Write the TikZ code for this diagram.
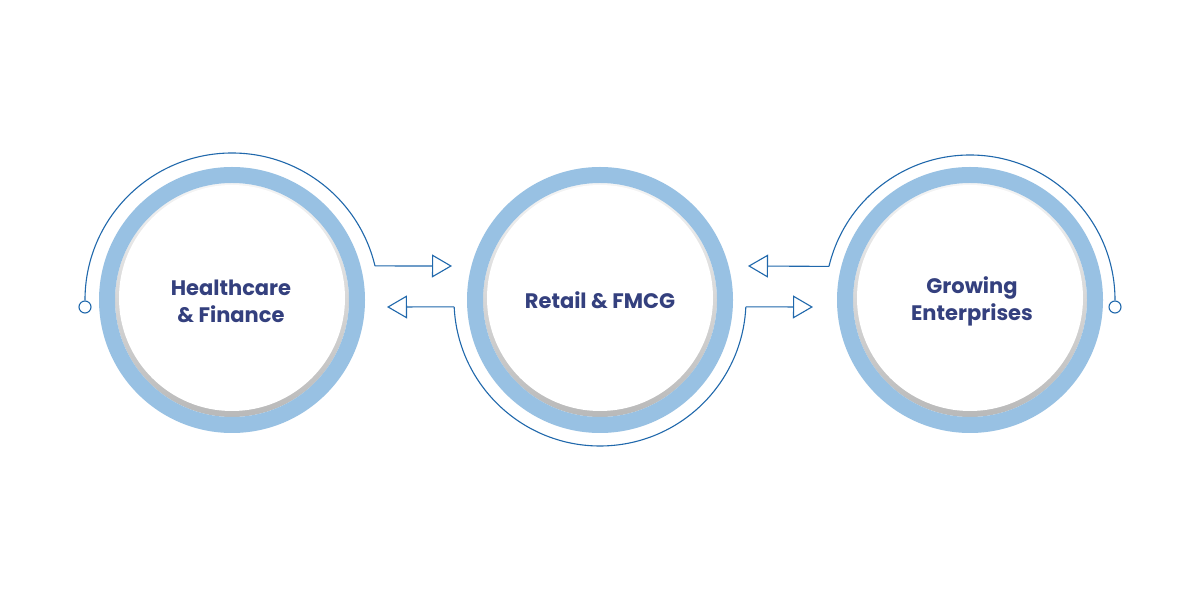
\documentclass[tikz,border=0pt]{standalone}
\usepackage{fontspec}
\setmainfont{Poppins}
\usetikzlibrary{arrows.meta,calc}
\definecolor{ringblue}{RGB}{152,193,227}
\definecolor{linkblue}{RGB}{32,104,172}
\definecolor{txtnavy}{RGB}{52,64,126}
\tikzset{
  ring/.style={circle, draw=ringblue, line width=16pt, minimum size=250pt, inner sep=0pt},
  label/.style={text=txtnavy, font=\fontsize{21}{27}\selectfont\bfseries, align=center},
  thin/.style={draw=linkblue, line width=1.1pt},
  arr/.style={thin, -{Triangle[open, length=20pt, width=23pt, line width=1.1pt]}},
  dot/.style={circle, draw=linkblue, line width=1.1pt, fill=white, minimum size=12pt, inner sep=0pt}
}
\newcommand{\innerdisk}[1]{%
  \shade[top color=gray!8, bottom color=gray!55] (#1) circle[radius=117pt];
  \fill[white] ($(#1)+(0,2pt)$) circle[radius=113pt];
}
\begin{document}
\begin{tikzpicture}[x=1pt,y=1pt]
\useasboundingbox (0,0) rectangle (1200,600);
\fill[white] (0,0) rectangle (1200,600);
% centres
\coordinate (Lc) at (232,300);
\coordinate (Mc) at (600,300);
\coordinate (Rc) at (970,300);
% inner disks
\innerdisk{Lc}
\innerdisk{Mc}
\innerdisk{Rc}
% rings with labels
\node[ring] (L) at (Lc) {};
\node[ring] (M) at (Mc) {};
\node[ring] (R) at (Rc) {};
\node[label] (Lt) at ($(Lc)+(-1,-1)$) {Healthcare\\ \& Finance};
\node[label] (Mt) at ($(Mc)+(0,0)$) {Retail \& FMCG};
\node[label] (Rt) at ($(Rc)+(2,-1)$) {Growing\\Enterprises};
% end dots
\node[dot] (Ld) at ($(Lc)+(-147,-7)$) {};
\node[dot] (Rd) at ($(Rc)+(145,-7)$) {};
% left outer arc
\coordinate (La) at ($(Lc)+(180:147)$);
\draw[thin] (Ld.north) -- (La) arc[start angle=180, end angle=13.4, radius=147] coordinate (Lb);
\coordinate (Mtipa) at ($(Mc)+(-148,34)$);
\draw[arr] (Lb) -- (Mtipa);
% middle lower arc
\coordinate (Ma) at ($(Mc)+(182.7:146)$);
\draw[thin] (Ma) arc[start angle=182.7, end angle=357.3, radius=146] coordinate (Mb);
\coordinate (Ltip) at ($(Lc)+(155,-7)$);
\coordinate (Rtip) at ($(Rc)+(-157,-7)$);
\draw[arr] (Ma) -- (Ltip);
\draw[arr] (Mb) -- (Rtip);
% right outer arc
\coordinate (Ra) at ($(Rc)+(0:145)$);
\draw[thin] (Rd.north) -- (Ra) arc[start angle=0, end angle=166.6, radius=145] coordinate (Rb);
\coordinate (Mtipb) at ($(Mc)+(148,34)$);
\draw[arr] (Rb) -- (Mtipb);
\end{tikzpicture}
\end{document}
